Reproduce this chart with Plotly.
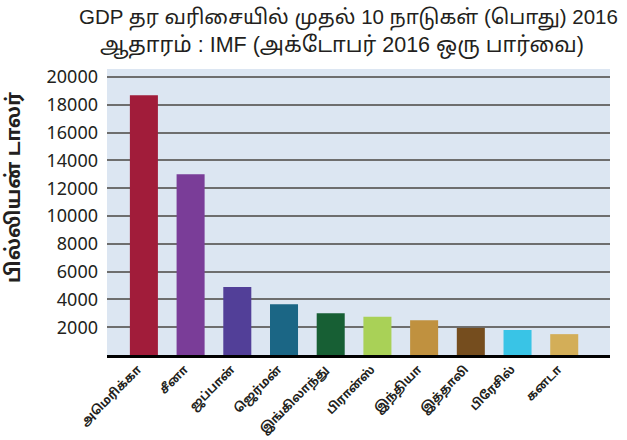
import plotly.graph_objects as go

countries = ["அமெரிக்கா", "சீனா", "ஜப்பான்", "ஜெர்மன்", "இங்கிலாந்து",
             "பிரான்ஸ்", "இந்தியா", "இத்தாலி", "பிரேசில்", "கனடா"]
gdp = [18700, 13000, 4900, 3650, 3000, 2750, 2500, 1950, 1800, 1500]
colors = ["#a11c3a", "#7a3d98", "#523f98", "#1b6685", "#175f34",
          "#a9d157", "#c0913f", "#754d1e", "#39c4e6", "#d3ae58"]
yticks = [2000, 4000, 6000, 8000, 10000, 12000, 14000, 16000, 18000, 20000]

title1 = "GDP தர வரிசையில் முதல் 10 நாடுகள் (பொது) 2016"
title2 = "ஆதாரம் : IMF (அக்டோபர் 2016 ஒரு பார்வை)"
ytitle = "பில்லியன் டாலர்"

tamil = "Noto Sans Tamil, Lohit Tamil, Noto Sans, Liberation Sans, sans-serif"
titlefont = "Liberation Sans, Noto Sans Tamil, Lohit Tamil, sans-serif"

x = list(range(len(countries)))
fig = go.Figure(go.Bar(
    x=x, y=gdp, width=0.6,
    marker=dict(color=colors, line=dict(width=0)),
))

fig.update_layout(
    width=627, height=440,
    margin=dict(l=107, r=17, t=69, b=85, autoexpand=False),
    paper_bgcolor="white", plot_bgcolor="#dce6f2",
    showlegend=False,
    font=dict(family=tamil, color="#231f20"),
)
fig.update_xaxes(
    tickvals=x, ticktext=["<b>" + c + "</b>" for c in countries], range=[-0.79, 9.98],
    tickangle=-45, tickfont=dict(size=12, family=tamil, color="#231f20"),
    ticklabelshift=-6,
    showline=True, linecolor="black", linewidth=2.5, ticks="",
    showgrid=False, zeroline=False, automargin=False,
)
fig.update_yaxes(
    range=[0, 20580], tickvals=yticks,
    ticktext=[str(v) for v in yticks],
    tickfont=dict(size=18, family="Noto Sans, Open Sans, sans-serif", color="#231f20"),
    ticks="", ticklabelstandoff=8,
    showgrid=True, gridcolor="#6e6e6e", gridwidth=1.5,
    zeroline=False, showline=False, automargin=False,
)

fig.add_annotation(text=title1, x=348, y=18, xref="paper", yref="paper",
                   showarrow=False, font=dict(size=20.5, family=titlefont, color="#231f20"))
fig.add_annotation(text=title2, x=342, y=46, xref="paper", yref="paper",
                   showarrow=False, font=dict(size=21.5, family=titlefont, color="#231f20"))
fig.add_annotation(text="<b>" + ytitle + "</b>", x=15, y=188, xref="paper", yref="paper",
                   textangle=-90, showarrow=False,
                   font=dict(size=20, family=tamil, color="#231f20"))

# convert pixel positions for annotations
W, H = 627, 440
l, r, t, b = 107, 17, 69, 85
pw, ph = W - l - r, H - t - b
for ann in fig.layout.annotations:
    px, py = ann.x, ann.y
    ann.x = (px - l) / pw
    ann.y = (H - b - py) / ph
    ann.xanchor = "center"
    ann.yanchor = "middle"

fig.write_html("out.html", config={"displayModeBar": False},
               post_script="document.body.style.margin='0';document.body.style.overflow='hidden';")
